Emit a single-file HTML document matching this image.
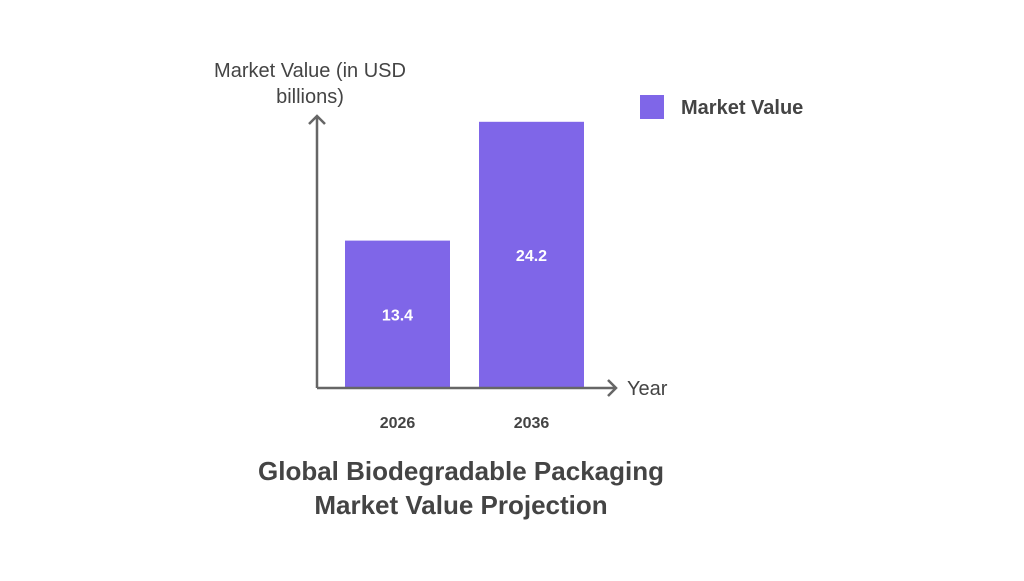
<!DOCTYPE html>
<html><head><meta charset="utf-8"><style>
html,body{margin:0;padding:0;background:#fff;}
svg text{font-family:"Liberation Sans",sans-serif;}
</style></head><body>
<svg id="chart" width="1024" height="576" viewBox="0 0 1024 576" xmlns="http://www.w3.org/2000/svg">
<rect width="1024" height="576" fill="#fff"/>
<g id="bars"></g>
<path d="M317 388 V116 M309 124 L317 116 L325 124" fill="none" stroke="#666" stroke-width="2.5"/>
<path d="M317 388 H616 M608 380 L616 388 L608 396" fill="none" stroke="#666" stroke-width="2.5"/>
<text font-size="20" fill="#444" text-anchor="middle"><tspan x="310" y="77">Market Value (in USD</tspan><tspan x="310" y="103">billions)</tspan></text>
<text x="627" y="395" font-size="20" fill="#444">Year</text>
<rect x="640" y="95" width="24" height="24" fill="#7F66E8"/>
<text x="681" y="114" font-size="20" font-weight="bold" fill="#444">Market Value</text>
<text font-size="26" font-weight="bold" fill="#444" text-anchor="middle"><tspan x="461" y="480">Global Biodegradable Packaging</tspan><tspan x="461" y="514">Market Value Projection</tspan></text>
</svg>
<script>
const categories = ["2026", "2036"];
const values = [13.4, 24.2];
const valueLabels = ["13.4", "24.2"];
const baseY = 388, pxPerUnit = 11.0;
const y = v => baseY - v * pxPerUnit;
const x = i => 345 + i * 134;
const bw = 105;
const g = document.getElementById('bars');
const NS = "http://www.w3.org/2000/svg";
categories.forEach((c, i) => {
  const r = document.createElementNS(NS, 'rect');
  r.setAttribute('x', x(i)); r.setAttribute('y', y(values[i]));
  r.setAttribute('width', bw); r.setAttribute('height', baseY - y(values[i]));
  r.setAttribute('fill', '#7F66E8');
  
  
  g.appendChild(r);
  const t = document.createElementNS(NS, 'text');
  t.setAttribute('x', x(i) + bw / 2); t.setAttribute('y', (y(values[i]) + baseY) / 2 + 6);
  t.setAttribute('text-anchor', 'middle'); t.setAttribute('font-size', '16');
  t.setAttribute('font-weight', 'bold'); t.setAttribute('fill', '#fff');
  t.textContent = valueLabels[i];
  
  
  g.appendChild(t);
  const l = document.createElementNS(NS, 'text');
  l.setAttribute('x', x(i) + bw / 2); l.setAttribute('y', 428);
  l.setAttribute('text-anchor', 'middle'); l.setAttribute('font-size', '16');
  l.setAttribute('font-weight', 'bold'); l.setAttribute('fill', '#444');
  l.textContent = c;
  
  
  g.appendChild(l);
});
</script>
</body></html>
